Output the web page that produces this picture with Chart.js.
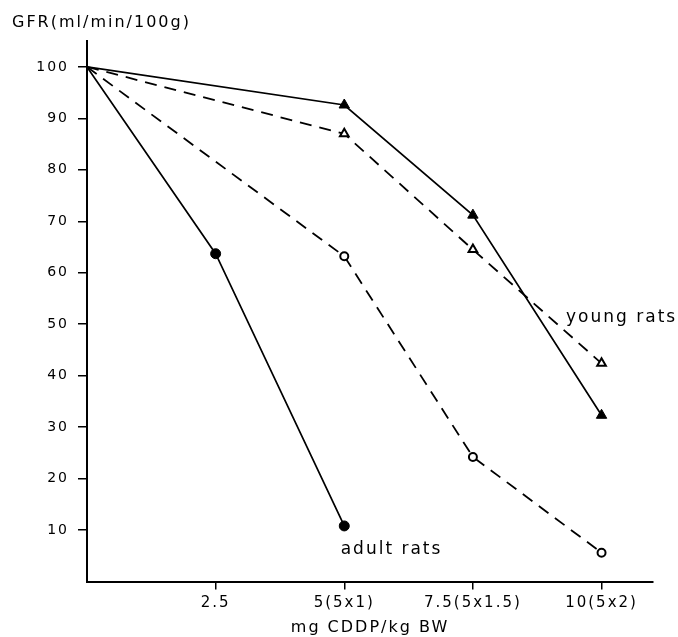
<!DOCTYPE html>
<html>
<head>
<meta charset="utf-8">
<script src="https://cdn.jsdelivr.net/npm/chart.js@4.4.0/dist/chart.umd.min.js"></script>
<style>
  html, body { margin: 0; padding: 0; background: #fff; }
  #wrap { width: 678px; height: 637px; }
</style>
</head>
<body>
<div id="wrap"><canvas id="gfrChart" width="678" height="637"></canvas></div>
<script>
// Axes
const xTicks = [2.5, 5, 7.5, 10];
const xTickLabels = ["2.5", "5(5x1)", "7.5(5x1.5)", "10(5x2)"];
const yTicks = [10, 20, 30, 40, 50, 60, 70, 80, 90, 100];

// Adult rats (filled circles, solid line)
const adultSolidDose = [0, 2.5, 5];
const adultSolidGfr = [100, 63.7, 10.8];
// Adult rats (open circles, dashed line)
const adultDashedDose = [0, 5, 7.5, 10];
const adultDashedGfr = [100, 63.2, 24.2, 5.6];
// Young rats (filled triangles, solid line)
const youngSolidDose = [0, 5, 7.5, 10];
const youngSolidGfr = [100, 92.6, 71.2, 32.3];
// Young rats (open triangles, dashed line)
const youngDashedDose = [0, 5, 7.5, 10];
const youngDashedGfr = [100, 87.0, 64.5, 42.4];

// Group labels written in the plot
const groupLabels = [
  { text: "young rats", x: 9.31, y: 51.3 },
  { text: "adult rats", x: 4.93, y: 6.3 }
];

const FONT = "'DejaVu Sans', sans-serif";

function toPoints(xs, ys) {
  return xs.map((x, i) => ({ x: x, y: ys[i] }));
}

// no marker at the common start point
function radii(n, r) {
  return Array.from({ length: n }, (_, i) => (i === 0 ? 0 : r));
}

const textPlugin = {
  id: "groupText",
  beforeDraw(chart) {
    chart.ctx.letterSpacing = "2px";
  },
  afterDatasetsDraw(chart) {
    const ctx = chart.ctx;
    const xs = chart.scales.x;
    const ys = chart.scales.y;
    ctx.save();
    ctx.font = "17px " + FONT;
    ctx.fillStyle = "#000";
    ctx.textAlign = "left";
    ctx.textBaseline = "middle";
    groupLabels.forEach(l => {
      ctx.fillText(l.text, xs.getPixelForValue(l.x), ys.getPixelForValue(l.y));
    });
    ctx.restore();
  }
};

const data = {
  datasets: [
    {
      label: "adult solid",
      data: toPoints(adultSolidDose, adultSolidGfr),
      borderColor: "#000",
      borderWidth: 1.7,
      pointStyle: "circle",
      pointRadius: radii(adultSolidDose.length, 5),
      pointBackgroundColor: "#000",
      pointBorderColor: "#000",
      pointBorderWidth: 1
    },
    {
      label: "adult dashed",
      data: toPoints(adultDashedDose, adultDashedGfr),
      borderColor: "#000",
      borderWidth: 1.8,
      borderDash: [12, 8],
      pointStyle: "circle",
      pointRadius: radii(adultDashedDose.length, 4),
      pointBackgroundColor: "#fff",
      pointBorderColor: "#000",
      pointBorderWidth: 2
    },
    {
      label: "young solid",
      data: toPoints(youngSolidDose, youngSolidGfr),
      borderColor: "#000",
      borderWidth: 1.7,
      pointStyle: "triangle",
      pointRadius: radii(youngSolidDose.length, 6),
      pointBackgroundColor: "#000",
      pointBorderColor: "#000",
      pointBorderWidth: 1
    },
    {
      label: "young dashed",
      data: toPoints(youngDashedDose, youngDashedGfr),
      borderColor: "#000",
      borderWidth: 1.8,
      borderDash: [12, 8],
      pointStyle: "triangle",
      pointRadius: radii(youngDashedDose.length, 5),
      pointBackgroundColor: "#fff",
      pointBorderColor: "#000",
      pointBorderWidth: 2
    }
  ]
};

const config = {
  type: "line",
  data: data,
  options: {
    responsive: false,
    animation: false,
    layout: {
      padding: { left: 12, right: 25, top: 0, bottom: 0 }
    },
    elements: {
      line: { tension: 0, fill: false }
    },
    plugins: {
      legend: { display: false },
      tooltip: { enabled: false },
      title: {
        display: true,
        text: "GFR(ml/min/100g)",
        align: "start",
        color: "#000",
        font: { family: FONT, size: 16, weight: "normal" },
        padding: { top: 13, bottom: 9 }
      }
    },
    scales: {
      x: {
        type: "linear",
        min: 0,
        max: 11,
        afterBuildTicks: s => { s.ticks = xTicks.map(v => ({ value: v })); },
        afterFit: s => { s.height = 55.5; },
        grid: { drawOnChartArea: false, drawTicks: true, tickLength: 8, color: "#000", lineWidth: 1.5 },
        border: { display: true, color: "#000", width: 2 },
        ticks: {
          color: "#000",
          font: { family: FONT, size: 15 },
          padding: 5,
          maxRotation: 0,
          autoSkip: false,
          callback: v => xTickLabels[xTicks.indexOf(v)]
        },
        title: {
          display: true,
          text: "mg CDDP/kg BW",
          color: "#000",
          font: { family: FONT, size: 16 },
          padding: { top: 0, bottom: 0 }
        }
      },
      y: {
        type: "linear",
        min: 0,
        max: 105,
        afterBuildTicks: s => { s.ticks = yTicks.map(v => ({ value: v })); },
        afterFit: s => { s.width = 75; },
        grid: { drawOnChartArea: false, drawTicks: true, tickLength: 9, color: "#000", lineWidth: 1.5 },
        border: { display: true, color: "#000", width: 2 },
        ticks: {
          color: "#000",
          font: { family: FONT, size: 14 },
          padding: 9
        }
      }
    }
  },
  plugins: [textPlugin]
};

const gfrChart = new Chart(document.getElementById("gfrChart"), config);
</script>
</body>
</html>
